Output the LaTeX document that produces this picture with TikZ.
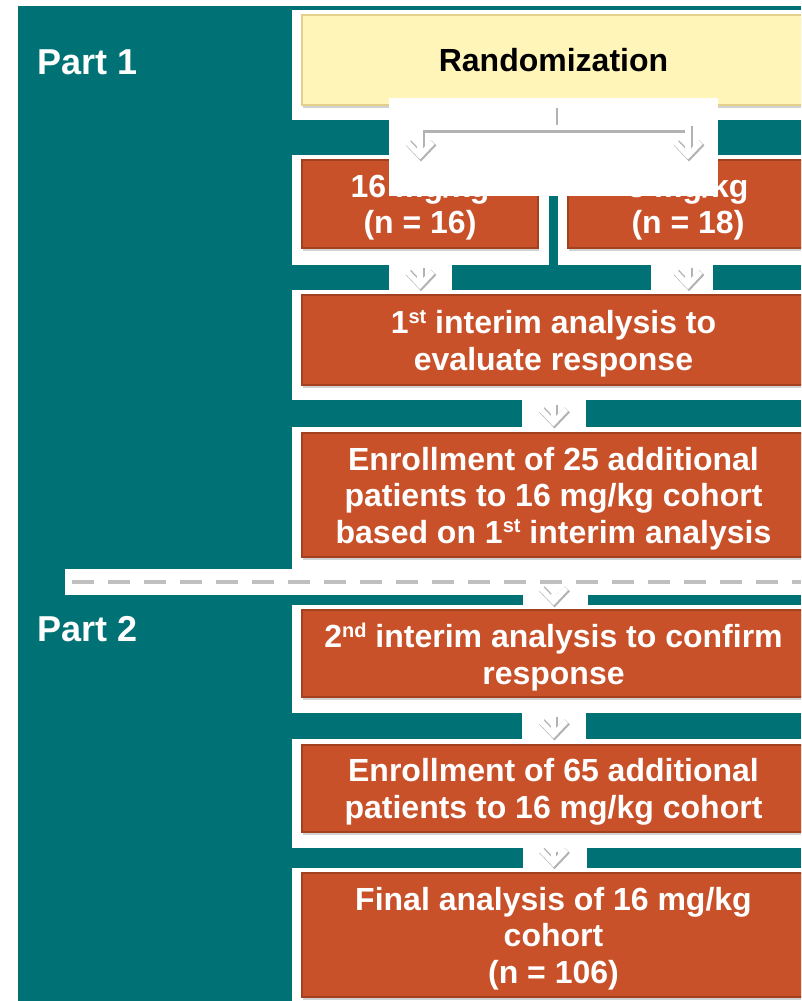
\documentclass[tikz,border=0pt]{standalone}
\usepackage{fontspec}
\setmainfont{Liberation Sans}
\usepackage{tikz}
\usetikzlibrary{arrows.meta,shadows,calc}
\definecolor{partteal}{RGB}{0,114,117}
\definecolor{cohortfill}{RGB}{200,81,42}
\definecolor{cohortline}{RGB}{163,64,31}
\definecolor{randfill}{RGB}{255,245,185}
\definecolor{randline}{RGB}{226,208,140}
\newcommand\ordsup[1]{\raisebox{0.62ex}{\fontsize{15}{15}\selectfont #1}}

\tikzset{
  boxsize/.style 2 args={minimum width=#1*0.75pt, minimum height=#2*0.75pt},
  stage/.style={rectangle, fill=cohortfill, draw=cohortline, line width=0.8pt,
    inner sep=0pt, align=center, text=white, text depth=-4pt,
    font=\fontsize{24}{27.4}\selectfont\bfseries,
    drop shadow={shadow xshift=1pt, shadow yshift=-2.5pt, opacity=0.35}},
  randbox/.style={stage, fill=randfill, draw=randline, text=black, text depth=-2.5pt},
  partlabel/.style={anchor=west, inner sep=0pt, text=white,
    font=\fontsize{27}{30}\selectfont\bfseries},
  flow/.style={white, line width=4pt,
    -{Straight Barb[length=10pt, width=19pt]},
    preaction={draw=black!30, line width=5.5pt,
      transform canvas={shift={(0.8pt,-1.5pt)}}}},
  separator/.style={black!25, line width=3.5pt, dash pattern=on 16.5pt off 10.5pt}
}

\begin{document}
\begin{tikzpicture}[x=0.75pt,y=-0.75pt]
  \useasboundingbox (0,0) rectangle (801,1001);
  \clip (0,0) rectangle (801,1001);
  \fill[partteal] (18,6) rectangle (801,1001);

  % white panels behind the stages
  \foreach \xa/\ya/\xb/\yb in {292/10/801/120, 292/155/549/265, 558/155/801/265,
      292/290/801/400, 292/427/801/570, 65/569/801/595, 292/605/801/713,
      292/739/801/848, 292/868/801/1001,
      389/265/452/290, 651/265/713/290, 522/400/586/427, 523/595/588/606,
      522/713/586/739, 523/848/587/868}
    \fill[white] (\xa,\ya) rectangle (\xb,\yb);

  \node[randbox, boxsize={503}{90}] (rand) at (553.5,60) {Randomization};
  \node[stage, boxsize={236}{88}] (dose16) at (420,204) {16 mg/kg\\(n = 16)};
  \node[stage, boxsize={240}{88}] (dose8) at (688,204) {8 mg/kg\\(n = 18)};
  \node[stage, boxsize={503}{90}] (interim1) at (553.5,340)
    {1\ordsup{st} interim analysis to\\evaluate response};
  \node[stage, boxsize={503}{124}] (enroll25) at (553.5,495)
    {Enrollment of 25 additional\\patients to 16 mg/kg cohort\\based on 1\ordsup{st} interim analysis};
  \node[stage, boxsize={503}{87}] (interim2) at (553.5,653.5)
    {2\ordsup{nd} interim analysis to confirm\\response};
  \node[stage, boxsize={503}{87}] (enroll65) at (553.5,788.5)
    {Enrollment of 65 additional\\patients to 16 mg/kg cohort};
  \node[stage, boxsize={503}{124}] (final) at (553.5,935)
    {Final analysis of 16 mg/kg\\cohort\\(n = 106)};

  \fill[white] (389,98) rectangle (718,196);

  \draw[flow] (rand.south) -- ++(0,22) -| (dose16.north);
  \draw[flow] (rand.south) -- ++(0,22) -| (dose8.north);
  \draw[flow, shorten <=13pt, shorten >=4pt] (dose16.south) -- (dose16.south |- interim1.north);
  \draw[flow, shorten <=13pt, shorten >=4pt] (dose8.south) -- (dose8.south |- interim1.north);
  \draw[flow, shorten <=13pt, shorten >=4.5pt] (interim1.south) -- (enroll25.north);
  \draw[flow, shorten <=27pt, shorten >=3pt] (enroll25.south) -- (interim2.north);
  \draw[flow, shorten <=13pt, shorten >=4.5pt] (interim2.south) -- (enroll65.north);
  \draw[flow, shorten <=13pt, shorten >=4pt] (enroll65.south) -- (final.north);

  \draw[separator] (72,582) -- (801,582);

  \node[partlabel] (part1) at (37,62) {Part 1};
  \node[partlabel] (part2) at (37,629) {Part 2};
\end{tikzpicture}
\end{document}
